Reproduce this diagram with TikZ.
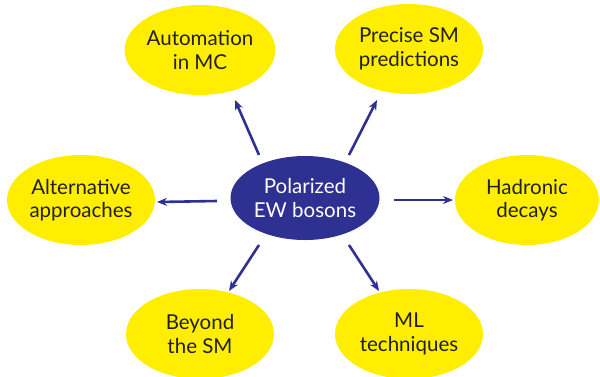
\documentclass[tikz,border=0pt]{standalone}
\usepackage{fontspec}
\setmainfont{Lato}
\usetikzlibrary{arrows.meta,shapes.geometric}
\definecolor{bubble}{HTML}{FFEE00}
\definecolor{hub}{HTML}{2E3192}
\definecolor{ink}{HTML}{231F20}
\tikzset{
  topic/.style={ellipse, fill=bubble, text=ink, minimum width=148pt, minimum height=90pt,
    inner sep=0pt, align=center, font=\fontsize{20.5}{23.5}\selectfont},
  core/.style={ellipse, fill=hub, text=white, minimum width=149pt, minimum height=84pt,
    inner sep=0pt, align=center, font=\fontsize{20.5}{23.5}\selectfont},
  link/.style={draw=hub, line width=2.6pt, -{Stealth[length=10pt,width=8pt]}},
}
\begin{document}
\begin{tikzpicture}[x=1pt, y=-1pt]
\useasboundingbox (0,0) rectangle (600,376);
\node[core] (c) at (305,198) {Polarized\\EW bosons};
\node[topic] (auto) at (200,50) {Automation\\in MC};
\node[topic] (prec) at (409,49) {Precise SM\\predictions};
\node[topic] (alt) at (81,200) {Alternative\\approaches};
\node[topic, minimum width=144pt] (had) at (527,200) {Hadronic\\decays};
\node[topic] (bsm) at (200,334) {Beyond\\the SM};
\node[topic] (ml) at (409,334) {ML\\techniques};
\coordinate (a1) at (259,155); \coordinate (a2) at (235,100);
\coordinate (b1) at (349,155); \coordinate (b2) at (377,100);
\coordinate (c1) at (217,201); \coordinate (c2) at (157,202);
\coordinate (d1) at (394,200); \coordinate (d2) at (453,200);
\coordinate (e1) at (259,245); \coordinate (e2) at (229,291);
\coordinate (f1) at (349,245); \coordinate (f2) at (379,291);
\draw[link] (a1) -- (a2);
\draw[link] (b1) -- (b2);
\draw[link] (c1) -- (c2);
\draw[link] (d1) -- (d2);
\draw[link] (e1) -- (e2);
\draw[link] (f1) -- (f2);
\end{tikzpicture}
\end{document}
